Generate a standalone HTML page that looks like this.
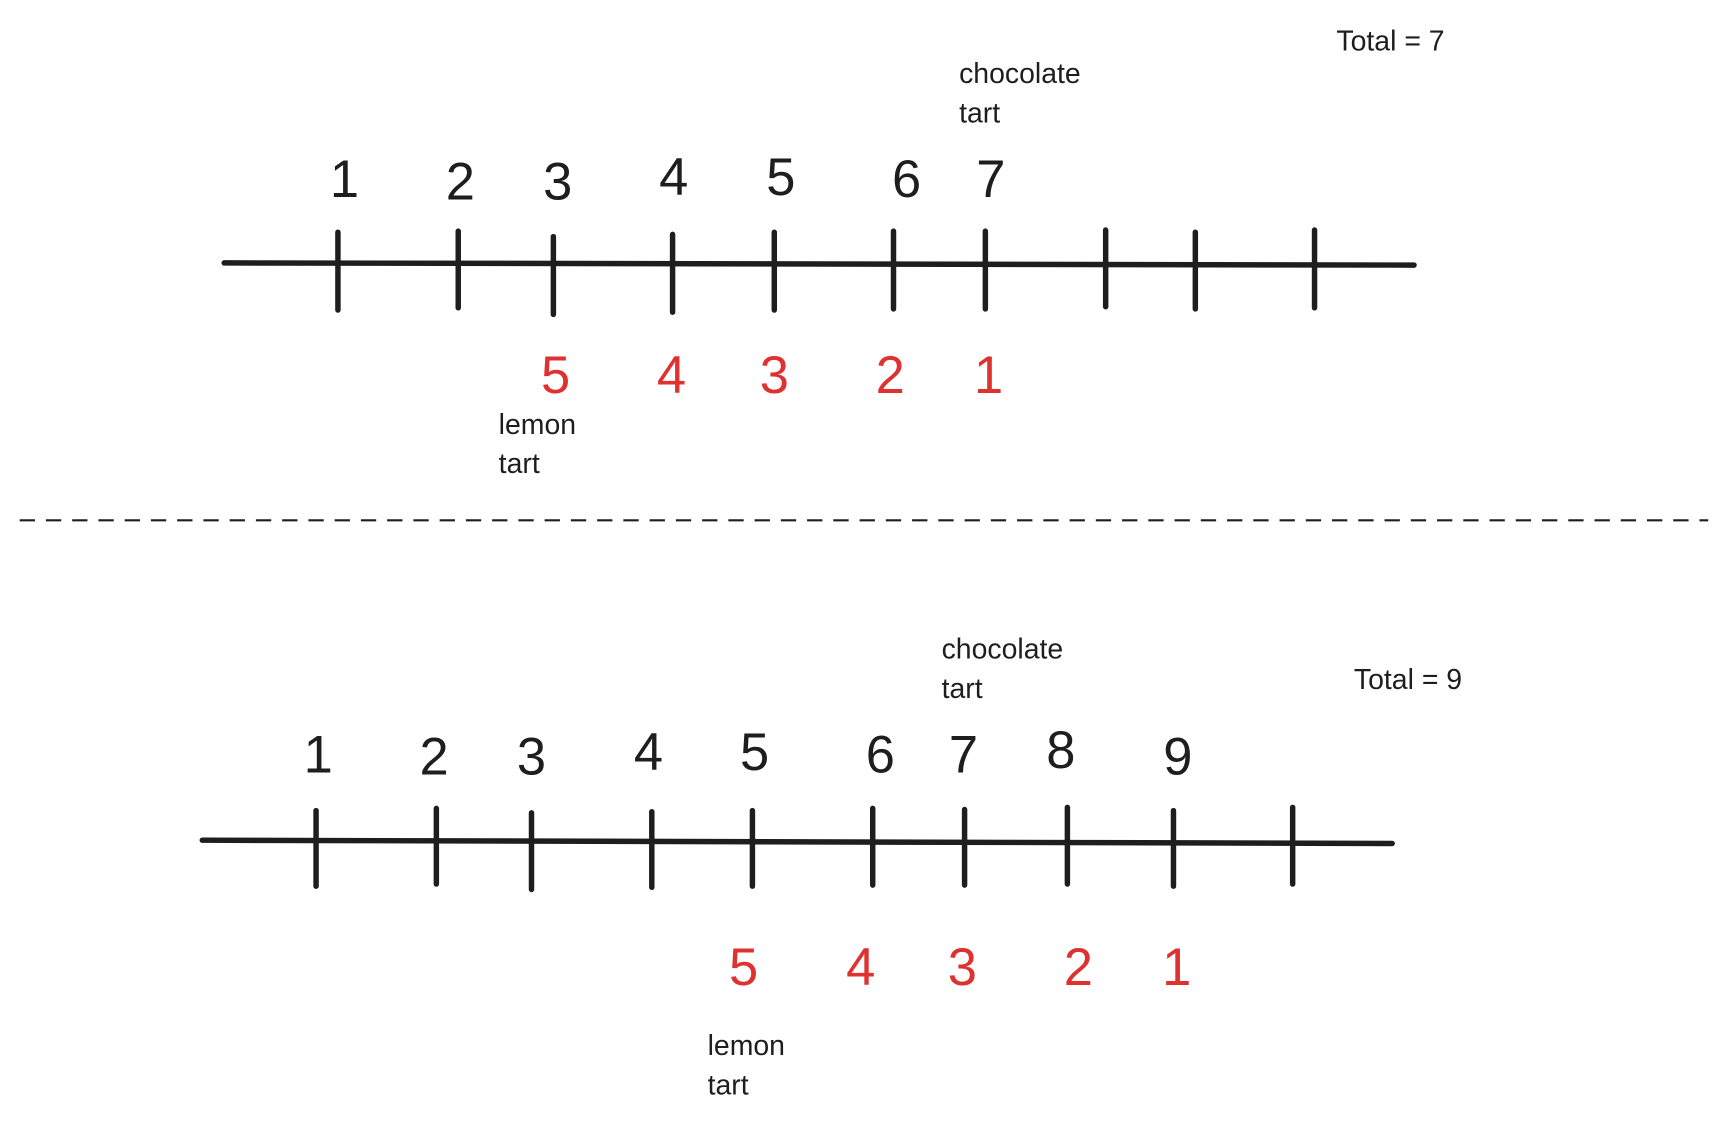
<!DOCTYPE html>
<html><head><style>html,body{margin:0;padding:0;background:#fff;}svg{display:block}</style></head><body>
<svg width="1717" height="1125" viewBox="0 0 1570 1027" preserveAspectRatio="none" xmlns="http://www.w3.org/2000/svg" font-family="Liberation Sans, DejaVu Sans, sans-serif">
<g stroke="#1e1e1e" stroke-width="5" stroke-linecap="round" fill="none">
<path d="M205 240 L1293 242"/>
<path d="M309 212V283M419 211V281M506 216V287M615 214V285M708 212V283M817 211V282M901 211V282M1011 210V280M1093 212V282M1202 210V281"/>
<path d="M185 767 L1273 770"/>
<path d="M289 740V809M399 738V807M486 742V812M596 741V810M688 740V809M798 738V808M882 739V808M976 737V807M1073 740V809M1182 737V807"/>
</g>
<path d="M18 475 L1562 475" stroke="#1e1e1e" stroke-width="2" stroke-dasharray="14 10"/>
<g font-size="48" fill="#1e1e1e" text-anchor="middle">
<text x="315" y="180">1</text><text x="421" y="182">2</text><text x="510" y="182">3</text><text x="616" y="178">4</text><text x="714" y="178">5</text><text x="829" y="180">6</text><text x="906" y="180">7</text>
<text x="291" y="705">1</text><text x="397" y="707">2</text><text x="486" y="707">3</text><text x="593" y="703">4</text><text x="690" y="703">5</text><text x="805" y="705">6</text><text x="881" y="705">7</text><text x="970" y="701">8</text><text x="1077" y="707">9</text>
</g>
<g font-size="48" fill="#e03131" text-anchor="middle">
<text x="508" y="359">5</text><text x="614" y="359">4</text><text x="708" y="359">3</text><text x="814" y="359">2</text><text x="904" y="359">1</text>
<text x="680" y="899">5</text><text x="787" y="899">4</text><text x="880" y="899">3</text><text x="986" y="899">2</text><text x="1076" y="899">1</text>
</g>
<g font-size="26" fill="#1e1e1e">
<text x="877" y="76">chocolate</text><text x="877" y="112">tart</text>
<text x="456" y="396">lemon</text><text x="456" y="432">tart</text>
<text x="1222" y="46">Total = 7</text>
<text x="861" y="601">chocolate</text><text x="861" y="637">tart</text>
<text x="647" y="963">lemon</text><text x="647" y="999">tart</text>
<text x="1238" y="629">Total = 9</text>
</g>
</svg>
</body></html>
